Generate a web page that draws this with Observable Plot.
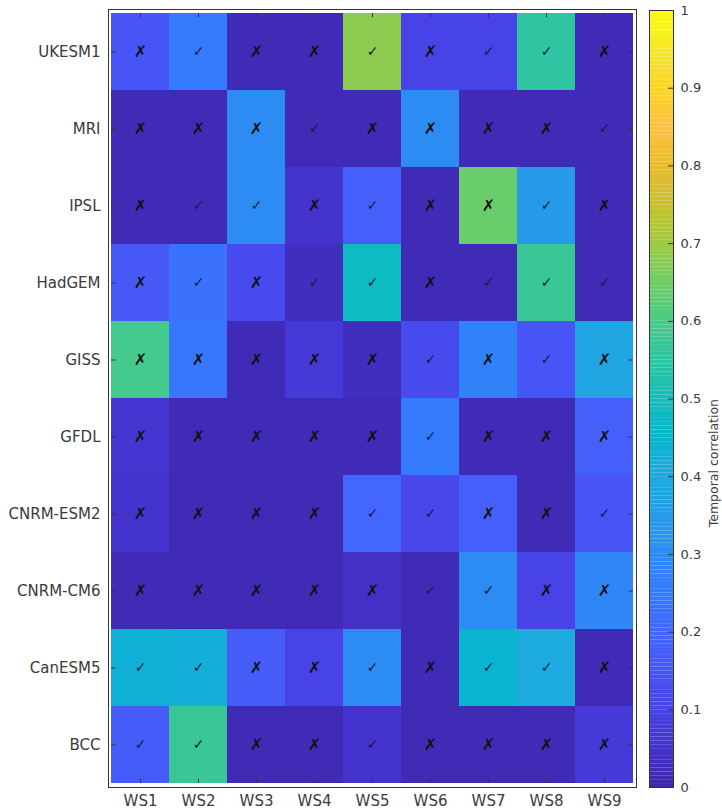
<!DOCTYPE html>
<html><head><meta charset="utf-8">
<script src="https://cdn.jsdelivr.net/npm/d3@7"></script>
<script src="https://cdn.jsdelivr.net/npm/@observablehq/plot@0.6"></script>
<style>
body{margin:0;background:#fff;}
#wrap{position:relative;width:722px;height:811px;overflow:hidden;background:#fff;}
#wrap svg{position:absolute;left:0;top:0;}
</style></head><body><div id="wrap"></div>
<script>
// ---- data ----
const models = ["UKESM1","MRI","IPSL","HadGEM","GISS","GFDL","CNRM-ESM2","CNRM-CM6","CanESM5","BCC"];
const stations = ["WS1","WS2","WS3","WS4","WS5","WS6","WS7","WS8","WS9"];

// temporal correlation, per model (WS1..WS9)
const corrUKESM1  = [0.15,0.25,0.02,0.02,0.68,0.10,0.10,0.55,0.02];
const corrMRI     = [0.02,0.02,0.30,0.02,0.02,0.30,0.02,0.02,0.02];
const corrIPSL    = [0.02,0.02,0.30,0.05,0.18,0.02,0.64,0.34,0.02];
const corrHadGEM  = [0.16,0.23,0.12,0.03,0.48,0.02,0.02,0.57,0.02];
const corrGISS    = [0.59,0.24,0.02,0.07,0.03,0.12,0.27,0.15,0.38];
const corrGFDL    = [0.06,0.02,0.02,0.02,0.02,0.25,0.02,0.02,0.18];
const corrCNRMESM2= [0.05,0.02,0.02,0.02,0.20,0.11,0.18,0.02,0.15];
const corrCNRMCM6 = [0.02,0.02,0.02,0.02,0.04,0.02,0.30,0.10,0.28];
const corrCanESM5 = [0.43,0.42,0.17,0.10,0.30,0.02,0.44,0.40,0.02];
const corrBCC     = [0.17,0.57,0.02,0.02,0.05,0.02,0.02,0.02,0.07];

// 1 = check mark, 0 = cross
const sigUKESM1   = [0,1,0,0,1,0,1,1,0];
const sigMRI      = [0,0,0,1,0,0,0,0,1];
const sigIPSL     = [0,1,1,0,1,0,0,1,0];
const sigHadGEM   = [0,1,0,1,1,0,1,1,1];
const sigGISS     = [0,0,0,0,0,1,0,1,0];
const sigGFDL     = [0,0,0,0,0,1,0,0,0];
const sigCNRMESM2 = [0,0,0,0,1,1,0,0,1];
const sigCNRMCM6  = [0,0,0,0,0,1,1,0,0];
const sigCanESM5  = [1,1,0,0,1,0,1,1,0];
const sigBCC      = [1,1,0,0,1,0,0,0,0];

const cbTicks = [0,0.1,0.2,0.3,0.4,0.5,0.6,0.7,0.8,0.9,1];
const cbLabel = "Temporal correlation";

// parula anchors every 0.05
const parula = ["#3e26a8","#4433cc","#4743e7","#4755f6","#4367fd","#347afd","#2d8cf3","#259ce7","#1caadf","#05b6ce","#12beb9","#2fc5a2","#48cb86","#71cd64","#9fc942","#c8c129","#eaba31","#fec13a","#fad42e","#f5e825","#f9fb15"];
const parulaInterp = d3.piecewise(d3.interpolateRgb, parula);

// ---- build ----
const corr = [corrUKESM1,corrMRI,corrIPSL,corrHadGEM,corrGISS,corrGFDL,corrCNRMESM2,corrCNRMCM6,corrCanESM5,corrBCC];
const sig  = [sigUKESM1,sigMRI,sigIPSL,sigHadGEM,sigGISS,sigGFDL,sigCNRMESM2,sigCNRMCM6,sigCanESM5,sigBCC];
const cells = models.flatMap((m,i)=>stations.map((s,j)=>({model:m, station:s, r:corr[i][j], sig:sig[i][j]})));

const W = 722, H = 811, mt = 9, mb = 24, ml = 108, mr = 86;
const rowBand = (H - mt - mb) / models.length;
const colBand = (W - ml - mr) / stations.length;
const ink = "#333";
const txt = "#3a3a3a";
const tickLen = 5;

const main = Plot.plot({
  width: W, height: H,
  marginTop: mt, marginBottom: mb, marginLeft: ml, marginRight: mr,
  style: {fontFamily: "DejaVu Sans", fontSize: "15px", color: txt, background: "transparent"},
  x: {domain: stations, padding: 0, label: null, axis: null},
  y: {domain: models, padding: 0, label: null, axis: null},
  color: {type: "linear", domain: [0,1], interpolate: parulaInterp},
  marks: [
    Plot.cell(cells, {x: "station", y: "model", fill: "r"}),
    Plot.text(cells.filter(d=>!d.sig), {x: "station", y: "model", text: ()=>"✗", fill: "#111", fontSize: 16, fontWeight: "bold"}),
    Plot.text(cells.filter(d=>d.sig), {x: "station", y: "model", text: ()=>"✓", fill: "#1a1a40", fontSize: 14}),
    Plot.frame({stroke: ink, strokeWidth: 1}),
    Plot.tickX(stations, {x: d=>d, y: ()=>models[models.length-1], insetTop: rowBand - tickLen, stroke: ink}),
    Plot.tickX(stations, {x: d=>d, y: ()=>models[0], insetBottom: rowBand - tickLen, stroke: ink}),
    Plot.tickY(models, {y: d=>d, x: ()=>stations[0], insetRight: colBand - tickLen, stroke: ink}),
    Plot.tickY(models, {y: d=>d, x: ()=>stations[stations.length-1], insetLeft: colBand - tickLen, stroke: ink}),
    Plot.axisX({anchor: "bottom", tickSize: 0, tickPadding: 8, fontSize: 15, label: null}),
    Plot.axisY({anchor: "left", tickSize: 0, tickPadding: 8, fontSize: 15, label: null})
  ]
});

const cbLeft = 649, cbRight = 673, cbTop = 10;
const nSlices = 200;
const slices = d3.range(nSlices).map(i => i / nSlices);
const step = 1 / nSlices;

const bar = Plot.plot({
  width: W, height: H,
  marginTop: cbTop, marginBottom: mb, marginLeft: cbLeft, marginRight: W - cbRight,
  style: {fontFamily: "DejaVu Sans", fontSize: "13px", color: txt, background: "transparent"},
  x: {domain: [0,1], axis: null},
  y: {domain: [0,1], axis: null},
  color: {type: "linear", domain: [0,1], interpolate: parulaInterp},
  marks: [
    Plot.rect(slices, {x1: 0, x2: 1, y1: d=>d, y2: d=>d + step*1.01, fill: d=>d + step/2}),
    Plot.frame({stroke: ink, strokeWidth: 1}),
    Plot.tickY(cbTicks, {y: d=>d, insetLeft: (cbRight - cbLeft) - tickLen, stroke: ink}),
    Plot.axisY({anchor: "right", ticks: cbTicks, tickSize: 0, tickPadding: 7, fontSize: 13,
      tickFormat: d => String(+d.toFixed(1)), label: null}),
    Plot.text([cbLabel], {frameAnchor: "right", text: d=>d, rotate: -90, dx: 40, fontSize: 12.5, fill: txt})
  ]
});

const wrap = document.getElementById("wrap");
wrap.appendChild(main);
wrap.appendChild(bar);
</script></body></html>
